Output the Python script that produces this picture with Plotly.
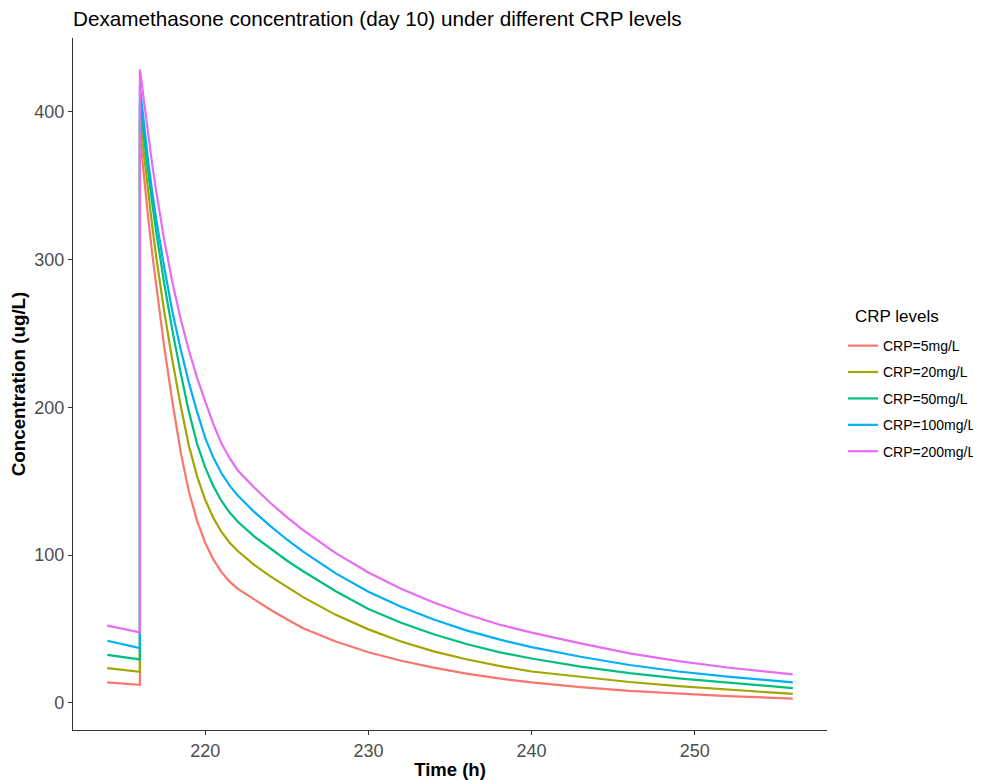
import plotly.graph_objects as go

# Time points (h)
pre_time = [214, 216]
post_time = [216, 216.25, 216.5, 216.75, 217, 217.5, 218, 218.5, 219, 219.5, 220, 220.5,
             221, 221.5, 222, 223, 224, 225, 226, 228, 230, 232, 234, 236, 238, 240,
             243, 246, 249, 252, 256]

series_names = ["CRP=5mg/L", "CRP=20mg/L", "CRP=50mg/L", "CRP=100mg/L", "CRP=200mg/L"]
colors = ["#F8766D", "#A3A500", "#00BF7D", "#00B0F6", "#E76BF3"]

# Concentrations (ug/L) before the day-10 dose
pre_crp5 = [13.8, 12.2]
pre_crp20 = [23.5, 21.0]
pre_crp50 = [32.5, 29.4]
pre_crp100 = [42.0, 37.0]
pre_crp200 = [52.2, 47.7]

# Concentrations (ug/L) from the day-10 dose onward
post_crp5 = [384, 355, 329, 304, 282, 240, 203, 169.5, 143, 123.3, 108.3, 97,
             88.4, 82, 77.1, 70, 63, 56.5, 50.5, 41.5, 34.2, 28.5, 23.8, 19.8, 16.5, 13.8,
             10.6, 8.1, 6.2, 4.6, 2.9]
post_crp20 = [395, 370, 346, 323, 301.5, 264, 231, 201, 174, 153.4, 137.4, 125.1,
              115.6, 108.3, 102.7, 93.4, 85.5, 78.2, 71.5, 59.5, 49.7, 41.5, 34.8, 29.5, 25, 21.2,
              17.4, 14.1, 11.3, 8.9, 6.0]
post_crp50 = [406, 382, 359.5, 338.5, 318.5, 283, 251.5, 223, 197, 175.4, 159.3, 146.6,
              136.6, 128.7, 122.5, 112.6, 104.2, 96.3, 89, 75.5, 63.5, 54.2, 46.4, 39.8, 34.3, 30.0,
              24.5, 20.1, 16.6, 13.6, 10.0]
post_crp100 = [417, 391, 367, 346, 327, 294, 264, 239, 216.5, 197, 179.2, 165.9,
               155.3, 146.9, 140.2, 129.2, 119.5, 110.5, 102.3, 87.6, 75.2, 65, 56.4, 49, 42.9, 37.7,
               31.2, 25.6, 21.2, 17.7, 13.8]
post_crp200 = [428.5, 406, 385, 364.5, 346, 312.5, 284, 259.5, 238.5, 220, 204, 188.5,
               175.5, 165.5, 157.2, 145.7, 135.2, 125.6, 116.8, 101.3, 88.2, 77.2, 67.9, 59.9, 53.0, 47.5,
               40.2, 33.5, 28.2, 23.9, 19.3]

pre_all = [pre_crp5, pre_crp20, pre_crp50, pre_crp100, pre_crp200]
post_all = [post_crp5, post_crp20, post_crp50, post_crp100, post_crp200]

FONT = "Liberation Sans, Arial, Helvetica, sans-serif"

fig = go.Figure()
for name, col, pre, post in zip(series_names, colors, pre_all, post_all):
    fig.add_trace(go.Scatter(
        x=pre_time + post_time, y=pre + post, mode="lines", name=name,
        legendgroup=name,
        line=dict(color=col, width=2.2, shape="linear"),
    ))

all_t = pre_time + post_time
all_v = [v for s in pre_all + post_all for v in s]
tmin, tmax = min(all_t), max(all_t)
vmin, vmax = min(all_v), max(all_v)
xpad = 0.05 * (tmax - tmin)
ypad = 0.05 * (vmax - vmin)

# page is drawn with an 8px body margin, so the figure is 973x772
W, H = 973, 772
L, R, T, B = 65, 154, 30, 50
PW, PH = W - L - R, H - T - B

tick_font = dict(family=FONT, size=18, color="#4D4D4D")
axis_common = dict(showgrid=False, zeroline=False, showline=True, linecolor="#333333",
                   linewidth=1.3, ticks="outside", ticklen=4, tickwidth=1.3,
                   tickcolor="#333333", tickfont=tick_font, automargin=False)

fig.update_layout(
    width=W, height=H,
    paper_bgcolor="white", plot_bgcolor="white",
    margin=dict(l=L, r=R, t=T, b=B, autoexpand=False),
    font=dict(family=FONT, color="black"),
    title=dict(text="Dexamethasone concentration (day 10) under different CRP levels",
               x=L / W, xanchor="left", y=1 - 11 / H, yanchor="middle",
               font=dict(family=FONT, size=20.7, color="black")),
    xaxis=dict(range=[tmin - xpad, tmax + xpad], tickvals=[220, 230, 240, 250],
               title=dict(text="<b>Time (h)</b>", font=dict(family=FONT, size=18.5, color="black"),
                          standoff=4),
               **axis_common),
    yaxis=dict(range=[vmin - ypad, vmax + ypad], tickvals=[0, 100, 200, 300, 400],
               title=dict(text="<b>Concentration (ug/L)</b>",
                          font=dict(family=FONT, size=18.8, color="black"), standoff=5),
               **axis_common),
    legend=dict(x=(835 - L) / PW, xanchor="left", y=0.578, yanchor="top",
                font=dict(family=FONT, size=14, color="black"), tracegroupgap=5.2,
                bgcolor="rgba(0,0,0,0)"),
    showlegend=True,
    annotations=[dict(text="CRP levels", xref="paper", yref="paper",
                      x=(844.7 - L) / PW, xanchor="left",
                      y=(H - B - 308) / PH, yanchor="middle", showarrow=False,
                      font=dict(family=FONT, size=17, color="black"))],
)

fig.write_html("out.html")
